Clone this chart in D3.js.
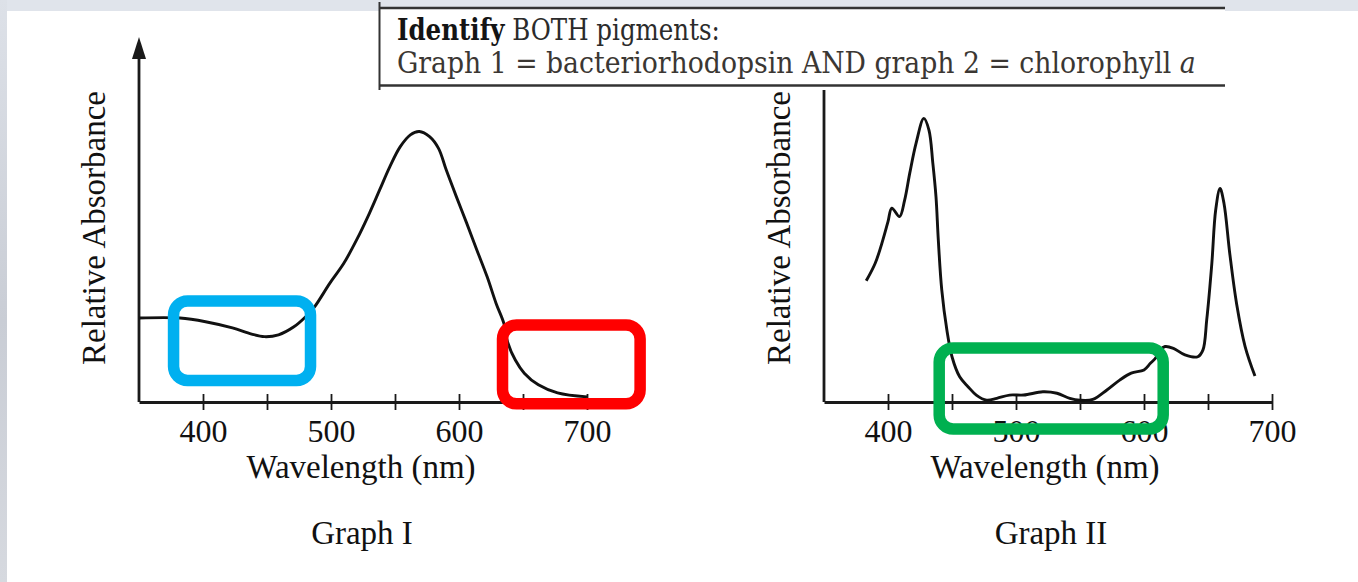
<!DOCTYPE html>
<html>
<head>
<meta charset="utf-8">
<script src="https://cdn.jsdelivr.net/npm/d3@7"></script>
<style>
  body { margin: 0; background: #fff; }
  svg { display: block; }
</style>
</head>
<body>
<div id="chart"></div>
<script>
// Graph I (bacteriorhodopsin) - wavelength in nm, relative absorbance
const g1Wavelength = [350, 382, 402, 423, 438, 448, 459, 471, 480, 487, 499, 510, 520, 530, 538, 546, 554, 562, 569, 577, 584, 590, 598, 606, 614, 622, 629, 635, 638, 644, 651, 662, 677, 700];
const g1Absorbance = [0.230, 0.230, 0.220, 0.203, 0.186, 0.179, 0.184, 0.206, 0.233, 0.260, 0.325, 0.380, 0.444, 0.517, 0.581, 0.645, 0.699, 0.732, 0.741, 0.727, 0.695, 0.636, 0.562, 0.490, 0.416, 0.343, 0.270, 0.216, 0.164, 0.115, 0.079, 0.047, 0.025, 0.014];

// Graph II (chlorophyll a)
const g2Wavelength = [383, 390, 396, 400, 403, 409, 413, 417, 422, 428, 432, 435, 437.5, 439.3, 442, 446, 450, 456, 462.5, 469, 477, 485, 495, 506, 521, 532, 542, 550, 560, 571, 581, 590, 600, 605, 609, 612.5, 616.5, 623, 632, 642, 646, 649, 653, 656, 659.4, 662.5, 667, 672.4, 679, 686.7];
const g2Absorbance = [0.332, 0.380, 0.444, 0.494, 0.531, 0.508, 0.553, 0.627, 0.710, 0.777, 0.745, 0.655, 0.562, 0.444, 0.307, 0.197, 0.124, 0.069, 0.042, 0.019, 0.005, 0.010, 0.019, 0.019, 0.028, 0.024, 0.010, 0.005, 0.007, 0.033, 0.060, 0.079, 0.088, 0.106, 0.120, 0.142, 0.152, 0.147, 0.129, 0.124, 0.142, 0.225, 0.380, 0.526, 0.585, 0.544, 0.407, 0.268, 0.152, 0.071];

const tickValues = [400, 450, 500, 550, 600, 650, 700];
const labelValues = [400, 500, 600, 700];
const xTitle = "Wavelength (nm)";
const yTitle = "Relative Absorbance";
const graphNames = ["Graph I", "Graph II"];

// highlight boxes drawn over the plots (nm range, absorbance range)
const highlights = [
  { graph: 0, color: "#00b0f0", x0: 377, x1: 484, y0: 0.059, y1: 0.277 },
  { graph: 0, color: "#ff0000", x0: 634, x1: 741.5, y0: -0.005, y1: 0.211 },
  { graph: 1, color: "#00b050", x0: 440, x1: 615, y0: -0.074, y1: 0.148 }
];

const width = 1358;
const height = 582;

const svg = d3.select("#chart").append("svg")
    .attr("width", width)
    .attr("height", height)
    .style("font-family", "'Liberation Serif', 'Times New Roman', serif");

const defs = svg.append("defs");
const grad = defs.append("linearGradient").attr("id", "edge").attr("x1", 0).attr("x2", 0).attr("y1", 0).attr("y2", 1);
grad.append("stop").attr("offset", "0%").attr("stop-color", "#dde1e8");
grad.append("stop").attr("offset", "55%").attr("stop-color", "#c9cdd5");
grad.append("stop").attr("offset", "100%").attr("stop-color", "#d6d9df");
defs.append("clipPath").attr("id", "cut")
  .append("rect").attr("x", 0).attr("y", 0).attr("width", 1297).attr("height", height);

// page background
svg.append("rect").attr("width", width).attr("height", height).attr("fill", "#fff");
svg.append("rect").attr("width", width).attr("height", 11).attr("fill", "#e0e4eb");
svg.append("rect").attr("width", 7).attr("height", height).attr("fill", "url(#edge)");

// scales
const y = d3.scaleLinear().domain([0, 1]).range([402, 37]);
const xs = [
  d3.scaleLinear().domain([350, 700]).range([139, 587]),
  d3.scaleLinear().domain([350, 700]).range([824, 1272])
];
const data = [
  g1Wavelength.map((w, i) => ({ w: w, a: g1Absorbance[i] })),
  g2Wavelength.map((w, i) => ({ w: w, a: g2Absorbance[i] }))
];

xs.forEach((x, gi) => {
  const g = svg.append("g").attr("clip-path", "url(#cut)");
  const x0 = x(350);

  // y axis with arrow head
  g.append("line")
    .attr("x1", x0).attr("x2", x0)
    .attr("y1", y(0)).attr("y2", y(1) + 18)
    .attr("stroke", "#1a1a1a").attr("stroke-width", 2.8);
  g.append("path")
    .attr("d", `M${x0 - 7},${y(1) + 22} L${x0},${y(1)} L${x0 + 7},${y(1) + 22} Z`)
    .attr("fill", "#1a1a1a");

  // x axis ticks (every 50 nm, crossing the line)
  const ticks = g.append("g")
    .attr("transform", `translate(0,${y(0)})`)
    .call(d3.axisBottom(x).tickValues(tickValues).tickSize(8).tickSizeOuter(0).tickFormat(""));
  ticks.select(".domain").attr("stroke", "#1a1a1a").attr("stroke-width", 2.8);
  ticks.selectAll(".tick line").attr("y1", -8).attr("stroke", "#1a1a1a").attr("stroke-width", 1.8);

  // tick labels
  const labels = g.append("g")
    .attr("transform", `translate(0,${y(0)})`)
    .call(d3.axisBottom(x).tickValues(labelValues).tickSize(0).tickFormat(d3.format("d")));
  labels.select(".domain").remove();
  labels.selectAll("text")
    .attr("y", 40).attr("dy", null)
    .attr("fill", "#111")
    .style("font-family", "'Liberation Serif', serif")
    .style("font-size", "32px");

  // curve
  g.append("path")
    .datum(data[gi])
    .attr("fill", "none")
    .attr("stroke", "#111")
    .attr("stroke-width", 2.9)
    .attr("stroke-linejoin", "round")
    .attr("d", d3.line().x(d => x(d.w)).y(d => y(d.a)).curve(d3.curveCatmullRom.alpha(0.5)));

  // axis titles
  const cx = gi === 0 ? 361 : 1045;
  g.append("text")
    .attr("x", cx).attr("y", 478)
    .attr("text-anchor", "middle")
    .attr("fill", "#111")
    .style("font-size", "33px")
    .text(xTitle);
  g.append("text")
    .attr("transform", `translate(${x0 - 34},${228}) rotate(-90)`)
    .attr("text-anchor", "middle")
    .attr("fill", "#111")
    .style("font-size", "33px")
    .text(yTitle);
  g.append("text")
    .attr("x", gi === 0 ? 362 : 1051).attr("y", 544)
    .attr("text-anchor", "middle")
    .attr("fill", "#111")
    .style("font-size", "33px")
    .text(graphNames[gi]);
});

// highlight boxes
svg.append("g").selectAll("rect")
  .data(highlights)
  .join("rect")
  .attr("x", d => xs[d.graph](d.x0))
  .attr("y", d => y(d.y1))
  .attr("width", d => xs[d.graph](d.x1) - xs[d.graph](d.x0))
  .attr("height", d => y(d.y0) - y(d.y1))
  .attr("rx", 14)
  .attr("fill", "none")
  .attr("stroke", d => d.color)
  .attr("stroke-width", 11.5);

// answer note box at the top
const note = svg.append("g");
note.append("rect").attr("x", 379).attr("y", 8).attr("width", 846).attr("height", 82).attr("fill", "#fff");
note.append("line").attr("x1", 379).attr("x2", 1225).attr("y1", 8).attr("y2", 8)
  .attr("stroke", "#333").attr("stroke-width", 2.4);
note.append("line").attr("x1", 379).attr("x2", 1225).attr("y1", 85.5).attr("y2", 85.5)
  .attr("stroke", "#333").attr("stroke-width", 2.4);
note.append("line").attr("x1", 379.5).attr("x2", 379.5).attr("y1", 2).attr("y2", 90)
  .attr("stroke", "#333").attr("stroke-width", 2);

function fitText(sel, targetWidth) {
  const w = sel.node().getComputedTextLength();
  const x = +sel.attr("x"), yy = +sel.attr("y");
  sel.attr("x", 0).attr("y", 0)
    .attr("transform", `translate(${x},${yy}) scale(${targetWidth / w},1)`);
}

const line1 = note.append("text")
  .attr("x", 397).attr("y", 40)
  .style("font-family", "'DejaVu Serif', serif")
  .style("font-size", "29px")
  .attr("fill", "#2b2b2b");
line1.append("tspan").style("font-weight", "bold").attr("fill", "#141414").text("Identify");
line1.append("tspan").text(" BOTH pigments:");
fitText(line1, 323);

const line2 = note.append("text")
  .attr("x", 397).attr("y", 73)
  .style("font-family", "'DejaVu Serif', serif")
  .style("font-size", "29px")
  .attr("fill", "#3b3733");
line2.append("tspan").text("Graph 1 = bacteriorhodopsin AND graph 2 = chlorophyll ");
line2.append("tspan").style("font-style", "italic").text("a");
fitText(line2, 799);
</script>
</body>
</html>
